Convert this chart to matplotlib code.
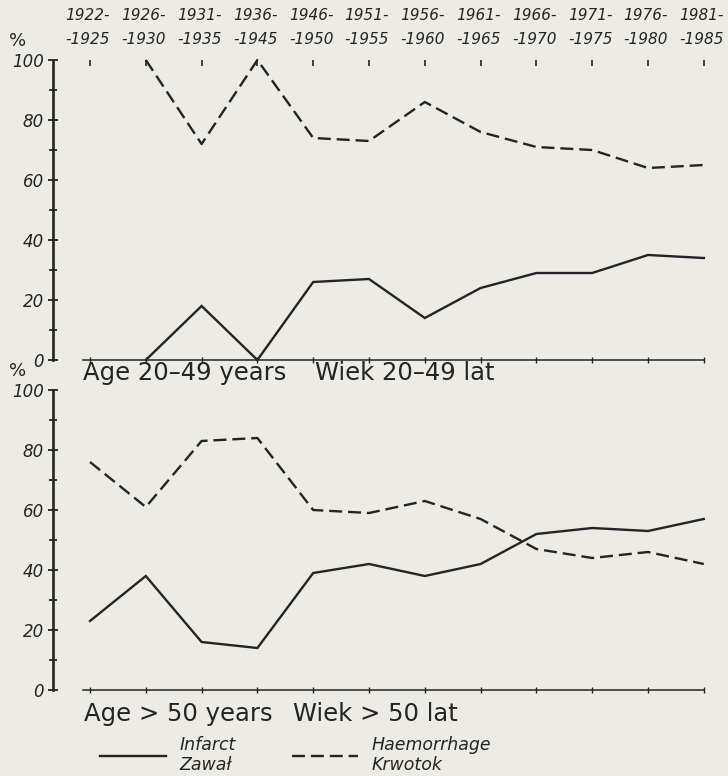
import matplotlib
matplotlib.use("Agg")
import matplotlib.pyplot as plt
import numpy as np

# ------------------------------------------------------------------
# data (% of strokes per period)
# ------------------------------------------------------------------
periods = ["1922-1925", "1926-1930", "1931-1935", "1936-1945", "1946-1950",
           "1951-1955", "1956-1960", "1961-1965", "1966-1970", "1971-1975",
           "1976-1980", "1981-1985"]

infarct_young = [np.nan, 0, 18, 0, 26, 27, 14, 24, 29, 29, 35, 34]
haemorrhage_young = [np.nan, 100, 72, 100, 74, 73, 86, 76, 71, 70, 64, 65]

infarct_old = [23, 38, 16, 14, 39, 42, 38, 42, 52, 54, 53, 57]
haemorrhage_old = [76, 61, 83, 84, 60, 59, 63, 57, 47, 44, 46, 42]

yticks_major = [0, 20, 40, 60, 80, 100]
yticks_minor = [10, 30, 50, 70, 90]

BG = "#ecebe5"
INK = "#242424"
DASH = (5.5, 2.5)

W, H = 728, 776
fig = plt.figure(figsize=(W / 100, H / 100), dpi=100, facecolor=BG)

x = np.arange(len(periods))
x_left, x_right = -0.663, 11.3


def px_box(left, top, right, bottom):
    return [left / W, 1 - bottom / H, (right - left) / W, (bottom - top) / H]


def style_axes(ax):
    ax.set_facecolor(BG)
    ax.set_xlim(x_left, x_right)
    ax.set_ylim(0, 100)
    for s in ("top", "right"):
        ax.spines[s].set_visible(False)
    ax.spines["left"].set_linewidth(1.9)
    ax.spines["left"].set_color(INK)
    ax.spines["bottom"].set_linewidth(1.1)
    ax.spines["bottom"].set_color(INK)
    ax.spines["bottom"].set_bounds(-0.13, 11)

    ax.set_yticks(yticks_major)
    ax.set_yticks(yticks_minor, minor=True)
    ax.set_yticklabels([str(v) for v in yticks_major], fontsize=12,
                       style="italic", color=INK)
    ax.tick_params(axis="y", which="major", direction="inout", length=7,
                   width=1.3, color=INK, pad=3)
    ax.tick_params(axis="y", which="minor", direction="inout", length=6,
                   width=1.3, color=INK)

    ax.set_xticks(x)
    ax.set_xticklabels([])
    ax.tick_params(axis="x", which="major", direction="inout", length=5,
                   width=1.0, color=INK)

    ax.annotate("%", xy=(0, 1), xycoords="axes fraction", xytext=(-35, 19),
                textcoords="offset pixels", ha="center", va="center",
                fontsize=13, color=INK)


def plot_pair(ax, infarct, haem):
    ax.plot(x, infarct, color=INK, lw=1.7, solid_joinstyle="miter",
            clip_on=False, label="Infarct\nZawał")
    ax.plot(x, haem, color=INK, lw=1.7, dashes=DASH, clip_on=False,
            label="Haemorrhage\nKrwotok")


# ------------------------------------------------------------------
# top panel : age 20-49
# ------------------------------------------------------------------
ax1 = fig.add_axes(px_box(53, 60, 53 + (x_right - x_left) * 55.8, 360))
style_axes(ax1)
plot_pair(ax1, infarct_young, haemorrhage_young)

top = ax1.secondary_xaxis("top")
top.set_xticks(x)
top.set_xticklabels([])
top.tick_params(direction="in", length=4, width=1.2, color=INK)
top.spines["top"].set_visible(False)

for i, p in enumerate(periods):
    a, b = p.split("-")
    ax1.annotate(a + "-", xy=(i, 1), xycoords=("data", "axes fraction"),
                 xytext=(-2, 45), textcoords="offset pixels", ha="center",
                 va="center", fontsize=11, style="italic", color=INK)
    ax1.annotate("-" + b, xy=(i, 1), xycoords=("data", "axes fraction"),
                 xytext=(-2, 20), textcoords="offset pixels", ha="center",
                 va="center", fontsize=11, style="italic", color=INK)

fig.text(83 / W, 1 - 373 / H, "Age 20–49 years", fontsize=17.5, color=INK,
         va="center", ha="left")
fig.text(315 / W, 1 - 373 / H, "Wiek 20–49 lat", fontsize=17.5, color=INK,
         va="center", ha="left")

# ------------------------------------------------------------------
# bottom panel : age > 50
# ------------------------------------------------------------------
ax2 = fig.add_axes(px_box(53, 390, 53 + (x_right - x_left) * 55.8, 690))
style_axes(ax2)
plot_pair(ax2, infarct_old, haemorrhage_old)

fig.text(84 / W, 1 - 714 / H, "Age > 50 years", fontsize=17.5, color=INK,
         va="center", ha="left")
fig.text(293 / W, 1 - 714 / H, "Wiek > 50 lat", fontsize=17.5, color=INK,
         va="center", ha="left")

leg = ax2.legend(loc="center left", bbox_to_anchor=(100 / W, 1 - 755 / H),
                 bbox_transform=fig.transFigure, ncols=2, frameon=False,
                 borderpad=0, borderaxespad=0, handlelength=3.8,
                 handletextpad=0.8, columnspacing=3.2,
                 prop={"size": 12.5, "style": "italic"}, labelcolor=INK)

fig.savefig("out.png", dpi=100, facecolor=BG)
